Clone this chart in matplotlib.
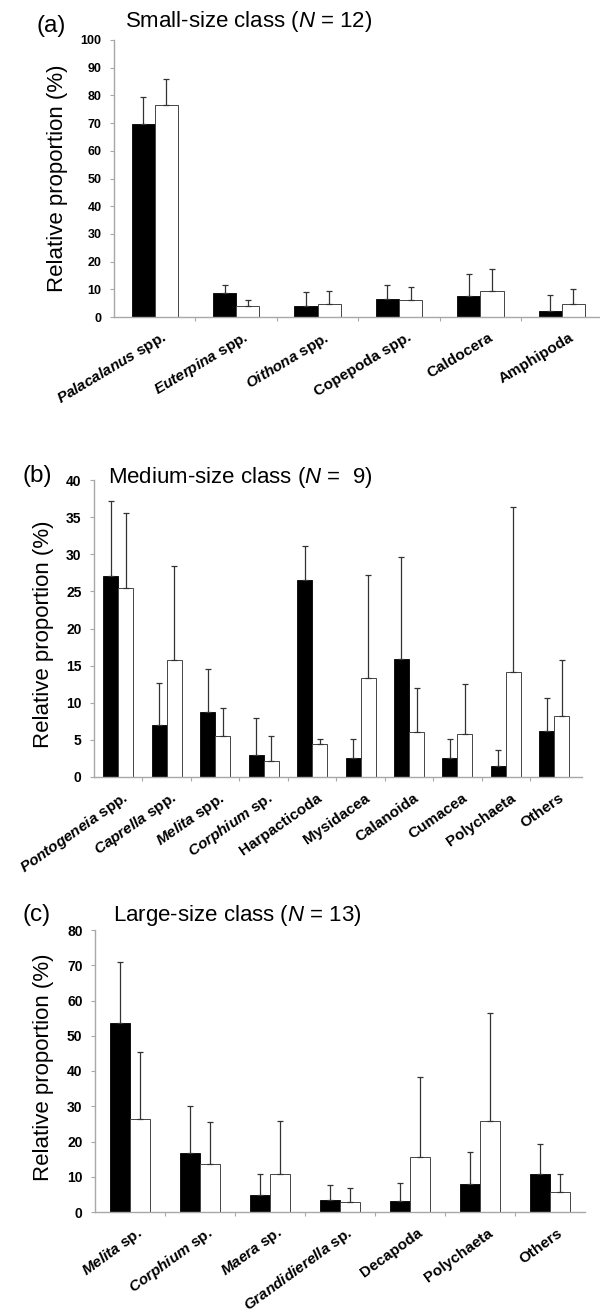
import numpy as np
import matplotlib
matplotlib.use("Agg")
import matplotlib.pyplot as plt
from matplotlib.transforms import ScaledTranslation

plt.rcParams['font.family'] = ['Liberation Sans', 'DejaVu Sans']
plt.rcParams['mathtext.fontset'] = 'custom'
plt.rcParams['mathtext.rm'] = 'Liberation Sans'
plt.rcParams['mathtext.it'] = 'Liberation Sans:italic'
plt.rcParams['mathtext.bf'] = 'Liberation Sans:bold'
plt.rcParams['mathtext.bfit'] = 'Liberation Sans:italic:bold'

# ---------------- data ----------------
# (a) Small-size class
cats_a = [r'$\mathbfit{Palacalanus}$ spp.', r'$\mathbfit{Euterpina}$ spp.',
          r'$\mathbfit{Oithona}$ spp.', 'Copepoda spp.', 'Caldocera', 'Amphipoda']
black_a = [69.8, 8.7, 4.1, 6.6, 7.7, 2.2]
black_a_sd = [9.5, 3.0, 5.1, 5.1, 7.9, 5.9]
white_a = [76.5, 3.8, 4.7, 6.0, 9.3, 4.6]
white_a_sd = [9.4, 2.5, 4.6, 5.0, 8.1, 5.5]
yticks_a = [0, 10, 20, 30, 40, 50, 60, 70, 80, 90, 100]

# (b) Medium-size class
cats_b = [r'$\mathbfit{Pontogeneia}$ spp.', r'$\mathbfit{Caprella}$ spp.',
          r'$\mathbfit{Melita}$ spp.', r'$\mathbfit{Corphium}$ sp.',
          'Harpacticoda', 'Mysidacea', 'Calanoida', 'Cumacea', 'Polychaeta', 'Others']
black_b = [27.1, 7.0, 8.7, 3.0, 26.5, 2.5, 15.9, 2.5, 1.5, 6.2]
black_b_sd = [10.1, 5.6, 5.8, 4.9, 4.6, 2.6, 13.7, 2.6, 2.1, 4.5]
white_b = [25.4, 15.7, 5.5, 2.1, 4.4, 13.4, 6.1, 5.8, 14.1, 8.2]
white_b_sd = [10.1, 12.7, 3.8, 3.4, 0.7, 13.8, 5.9, 6.7, 22.2, 7.6]
yticks_b = [0, 5, 10, 15, 20, 25, 30, 35, 40]

# (c) Large-size class
cats_c = [r'$\mathbfit{Melita}$ sp.', r'$\mathbfit{Corphium}$ sp.', r'$\mathbfit{Maera}$ sp.',
          r'$\mathbfit{Grandidierella}$ sp.', 'Decapoda', 'Polychaeta', 'Others']
black_c = [53.7, 16.6, 4.9, 3.3, 3.1, 7.9, 10.9]
black_c_sd = [17.3, 13.5, 5.8, 4.3, 5.1, 9.0, 8.5]
white_c = [26.5, 13.5, 10.9, 2.8, 15.6, 25.8, 5.7]
white_c_sd = [18.9, 12.1, 14.9, 4.0, 22.7, 30.7, 5.2]
yticks_c = [0, 10, 20, 30, 40, 50, 60, 70, 80]

W, H = 600, 1315
fig = plt.figure(figsize=(W / 100, H / 100), dpi=100)


def px_axes(left, right, top, bottom):
    return fig.add_axes([left / W, 1 - bottom / H, (right - left) / W, (bottom - top) / H])


panels = [
    dict(box=(114, 600, 40, 317), cats=cats_a, b=black_a, bs=black_a_sd, w=white_a, ws=white_a_sd,
         yt=yticks_a, ylim=100, xr=5.47, bw=0.285, tfs=9, xfs=11, rot=31, dx=11,
         yl=(57, 178), tag='(a)', tagxy=(51, 26),
         title=r'Small-size class ($\mathit{N}$ = 12)', titlexy=(125, 21)),
    dict(box=(94, 582, 480, 777), cats=cats_b, b=black_b, bs=black_b_sd, w=white_b, ws=white_b_sd,
         yt=yticks_b, ylim=40, xr=9.57, bw=0.31, tfs=10, xfs=11, rot=35, dx=8,
         yl=(44, 634), tag='(b)', tagxy=(37, 476),
         title=r'Medium-size class ($\mathit{N}$ =  9)', titlexy=(108, 477)),
    dict(box=(95, 585, 930, 1212), cats=cats_c, b=black_c, bs=black_c_sd, w=white_c, ws=white_c_sd,
         yt=yticks_c, ylim=80, xr=6.5, bw=0.29, tfs=10, xfs=11, rot=36, dx=11,
         yl=(44, 1067), tag='(c)', tagxy=(37, 915),
         title=r'Large-size class ($\mathit{N}$ = 13)', titlexy=(113, 915)),
]

for p in panels:
    ax = px_axes(*p['box'])
    n = len(p['cats'])
    x = np.arange(n)
    bw = p['bw']
    ax.bar(x - bw / 2, p['b'], width=bw, color='black', edgecolor='black', linewidth=0.6, zorder=2)
    ax.bar(x + bw / 2, p['w'], width=bw, color='white', edgecolor='#444444', linewidth=0.7, zorder=2)
    ax.errorbar(x - bw / 2, p['b'], yerr=[np.zeros(n), p['bs']], fmt='none',
                ecolor='#333333', elinewidth=0.9, capsize=2.2, capthick=0.9, zorder=3)
    ax.errorbar(x + bw / 2, p['w'], yerr=[np.zeros(n), p['ws']], fmt='none',
                ecolor='#333333', elinewidth=0.9, capsize=2.2, capthick=0.9, zorder=3)
    ax.set_xlim(-0.5, p['xr'])
    ax.set_ylim(0, p['ylim'])
    ax.set_yticks(p['yt'])
    ax.set_yticklabels([str(v) for v in p['yt']], fontsize=p['tfs'], fontweight='bold')
    for s in ['top', 'right']:
        ax.spines[s].set_visible(False)
    for s in ['left', 'bottom']:
        ax.spines[s].set_color('#a8a8a8')
        ax.spines[s].set_linewidth(1.0)
    ax.tick_params(axis='y', length=3, width=0.8, color='#a8a8a8', pad=6)
    ax.set_xticks(x)
    ax.set_xticks(np.arange(n - 1) + 0.5, minor=True)
    ax.tick_params(axis='x', which='major', length=0, pad=14)
    ax.tick_params(axis='x', which='minor', length=3, width=0.8, color='#a8a8a8')
    ax.set_xticklabels(p['cats'], fontsize=p['xfs'], fontweight='bold')
    for lab in ax.get_xticklabels():
        lab.set_rotation(p['rot'])
        lab.set_ha('right')
        lab.set_va('center')
        lab.set_rotation_mode('anchor')
        lab.set_transform(lab.get_transform() + ScaledTranslation(p['dx'] / 100, 0, fig.dpi_scale_trans))
    fig.text(p['yl'][0] / W, 1 - p['yl'][1] / H, 'Relative proportion (%)', rotation=90,
             ha='center', va='center', fontsize=16)
    fig.text(p['tagxy'][0] / W, 1 - p['tagxy'][1] / H, p['tag'], ha='center', va='center', fontsize=17.5)
    fig.text(p['titlexy'][0] / W, 1 - p['titlexy'][1] / H, p['title'], ha='left', va='center', fontsize=16)

fig.savefig('out.png', dpi=100, facecolor='white')
